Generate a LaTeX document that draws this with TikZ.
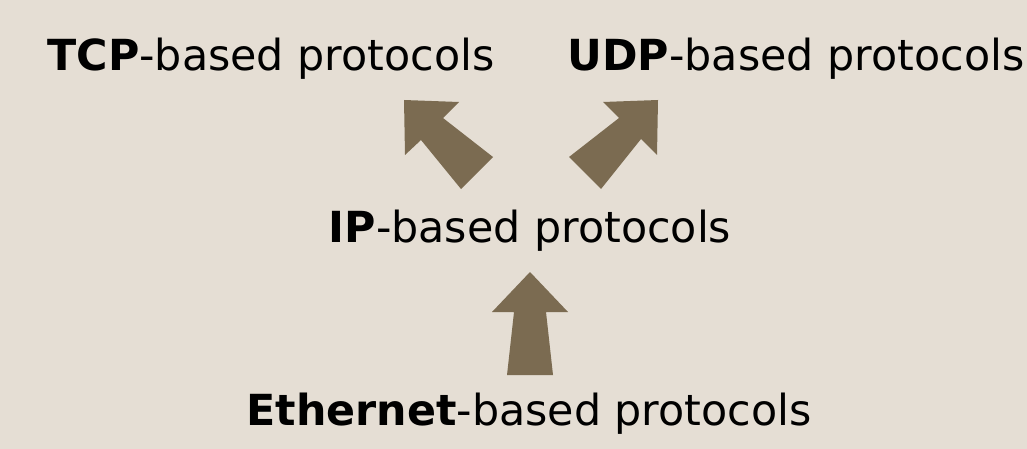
\documentclass[tikz,border=0pt]{standalone}
\usepackage{fontspec}
\setmainfont{DejaVu Sans}
\usepackage{xcolor}
\definecolor{paper}{HTML}{E5DED4}
\definecolor{mud}{HTML}{7B6B51}
\usetikzlibrary{positioning}
\tikzset{
  lbl/.style={font=\fontsize{42.8}{50}\selectfont, inner sep=0pt, anchor=base},
  fatarrow/.style={fill=mud, draw=none}
}
\begin{document}
\begin{tikzpicture}[x=1pt, y=-1pt]
\fill[paper] (0,0) rectangle (1027,449);
\node[lbl] (tcp) at (271,71) {\textbf{TCP}-based protocols};
\node[lbl] (udp) at (796,71) {\textbf{UDP}-based protocols};
\node[lbl] (ip) at (530,242) {\textbf{IP}-based protocols};
\node[lbl] (eth) at (529,425) {\textbf{Ethernet}-based protocols};
% block arrows
\fill[fatarrow] (404,100) -- (459,102) -- (443,118) -- (493,157) -- (461,189) -- (421,140) -- (405,155) -- cycle;
\fill[fatarrow] (658,100) -- (657,155) -- (641,139) -- (601,189) -- (569,157) -- (619,118) -- (603,102) -- cycle;
\fill[fatarrow] (530,272) -- (568,312) -- (546,312) -- (553,375) -- (507,375) -- (514,312) -- (492,312) -- cycle;
\end{tikzpicture}
\end{document}
